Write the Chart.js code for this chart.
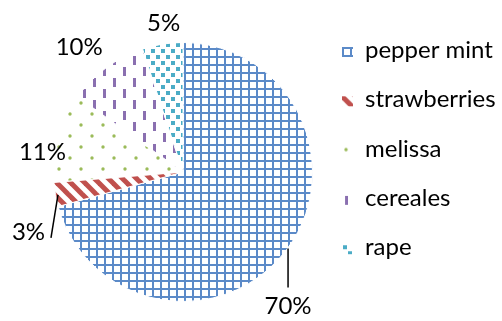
<!DOCTYPE html>
<html>
<head>
<meta charset="utf-8">
<script src="https://cdn.jsdelivr.net/npm/chart.js@4.4.1/dist/chart.umd.min.js"></script>
<style>
  html, body { margin: 0; padding: 0; background: #fff; }
  #wrap { width: 502px; height: 321px; position: relative; }
</style>
</head>
<body>
<div id="wrap"><canvas id="c" width="502" height="321"></canvas></div>
<script>
// Crop shares (percent)
const crops = ['pepper mint', 'strawberries', 'melissa', 'cereales', 'rape'];
const shares = [70, 3, 11, 10, 5];
const shareLabels = shares.map(v => v + '%');

const FONT = '24px Lato, "Open Sans", sans-serif';

// ---- hatch fills -------------------------------------------------------
function tile(w, h, draw) {
  const c = document.createElement('canvas');
  c.width = w; c.height = h;
  const g = c.getContext('2d');
  g.fillStyle = '#fff';
  g.fillRect(0, 0, w, h);
  draw(g, w, h);
  return g.createPattern(c, 'repeat');
}

const gridFill = tile(8, 8, g => {
  g.fillStyle = '#5b8ac8';
  g.fillRect(0, 0, 8, 2);
  g.fillRect(0, 0, 2, 8);
});

const stripeFill = tile(14, 14, g => {
  g.strokeStyle = '#c0504d';
  g.lineWidth = 5;
  for (const o of [-14, 0, 14]) {
    g.beginPath();
    g.moveTo(o - 2, -2);
    g.lineTo(o + 16, 16);
    g.stroke();
  }
});

const dotFill = tile(22, 22, g => {
  g.fillStyle = '#9bbb59';
  for (const [x, y] of [[4, 4], [15, 15]]) {
    g.beginPath();
    g.arc(x, y, 1.7, 0, Math.PI * 2);
    g.fill();
  }
});

const dashFill = tile(20, 22, g => {
  g.fillStyle = '#8a6fb0';
  g.fillRect(3, 1, 3, 9);
  g.fillRect(13, 12, 3, 9);
});

const squareFill = tile(10, 12, g => {
  g.fillStyle = '#4bacc6';
  g.fillRect(1, 1, 4, 4);
  g.fillRect(6, 7, 4, 4);
});

const fills = [gridFill, stripeFill, dotFill, dashFill, squareFill];

// ---- percentage labels placed from each slice's outer mid-point ----------
const sliceLabels = {
  id: 'sliceLabels',
  afterDatasetsDraw(chart, args, opts) {
    const ctx = chart.ctx;
    const meta = chart.getDatasetMeta(0);
    ctx.save();
    ctx.font = FONT;
    ctx.fillStyle = '#000';
    ctx.strokeStyle = '#000';
    ctx.lineWidth = 1.5;
    ctx.textAlign = 'center';
    ctx.textBaseline = 'alphabetic';
    meta.data.forEach((arc, i) => {
      const p = arc.getProps(['x', 'y', 'startAngle', 'endAngle', 'outerRadius'], true);
      const mid = (p.startAngle + p.endAngle) / 2;
      const ex = p.x + Math.cos(mid) * p.outerRadius;
      const ey = p.y + Math.sin(mid) * p.outerRadius;
      const o = opts.place[i];
      if (o.line) {
        ctx.beginPath();
        ctx.moveTo(ex + o.line[0], ey + o.line[1]);
        ctx.lineTo(ex + o.line[2], ey + o.line[3]);
        ctx.stroke();
      }
      ctx.fillText(shareLabels[i], ex + o.dx, ey + o.dy);
    });
    ctx.restore();
  }
};

// ---- legend on the right ----------------------------------------------
const sideLegend = {
  id: 'sideLegend',
  afterDraw(chart, args, opts) {
    const ctx = chart.ctx;
    ctx.save();
    ctx.font = FONT;
    ctx.fillStyle = '#000';
    ctx.textAlign = 'left';
    ctx.textBaseline = 'alphabetic';
    crops.forEach((name, i) => {
      const base = opts.top + i * opts.step;
      ctx.save();
      ctx.translate(opts.x, base - 11);
      ctx.fillStyle = fills[i];
      ctx.fillRect(0, 0, 11, 10);
      ctx.restore();
      ctx.fillText(name, opts.x + 23, base);
    });
    ctx.restore();
  }
};

new Chart(document.getElementById('c'), {
  type: 'pie',
  data: {
    labels: crops,
    datasets: [{
      data: shares,
      backgroundColor: fills,
      borderColor: '#fff',
      borderWidth: 1
    }]
  },
  options: {
    responsive: false,
    animation: false,
    layout: { padding: { left: 53, right: 189, top: 42, bottom: 19 } },
    plugins: {
      legend: { display: false },
      tooltip: { enabled: false },
      sliceLabels: {
        place: [
          { dx: 2, dy: 63.5, line: [2, -2, 2, 37] },
          { dx: -27, dy: 45.5, line: [2.5, 0.5, -4.5, 43.5] },
          { dx: -15.7, dy: 22.5 },
          { dx: -27, dy: -13 },
          { dx: 1, dy: -13.6 }
        ]
      },
      sideLegend: { x: 342, top: 58, step: 49.3 }
    }
  },
  plugins: [sliceLabels, sideLegend]
});
</script>
</body>
</html>
